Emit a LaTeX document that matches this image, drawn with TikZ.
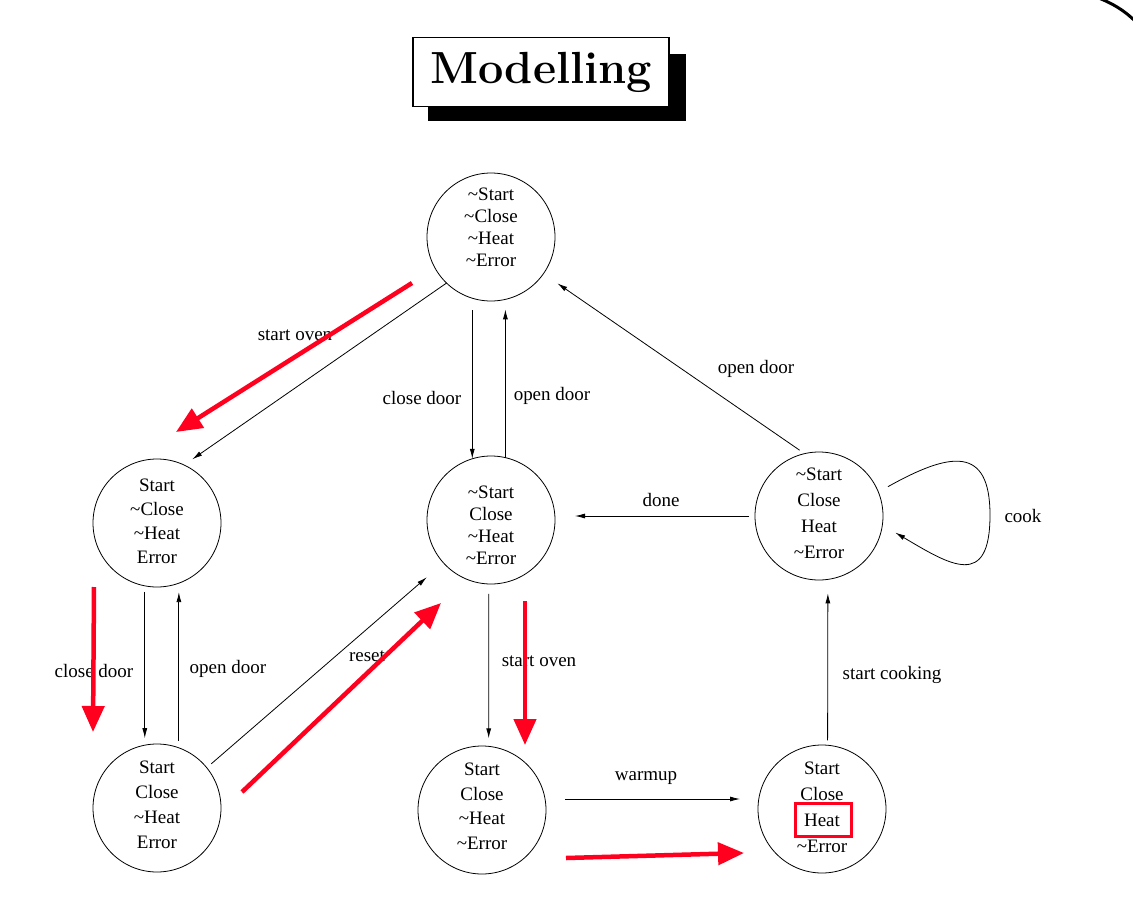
\documentclass[tikz,border=0pt]{standalone}
\usepackage{fontspec}
\newfontfamily\statefont{Liberation Serif}
\usetikzlibrary{arrows.meta}
\definecolor{markred}{RGB}{255,0,30}
\tikzset{
  state/.style={circle, draw, line width=0.8pt, minimum size=128pt, inner sep=0pt, outer sep=0pt,
    align=center, font=\statefont\fontsize{19}{#1}\selectfont},
  state/.default=23.5,
  lbl/.style={font=\statefont\fontsize{19}{23}\selectfont},
  edge/.style={-{Latex[length=10pt,width=5pt]}, line width=0.8pt},
  redarrow/.style={-{Triangle[length=26pt,width=22pt]}, draw=markred, fill=markred, line width=4.5pt}
}
\begin{document}
\begin{tikzpicture}[x=1pt, y=-1pt]
        \useasboundingbox (0,0) rectangle (1133,910);

        % title with its shadow
        \fill (428,54) rectangle (686,121);
        \node[draw, line width=1.5pt, fill=white, minimum width=256pt, minimum height=69pt, inner sep=0pt] (title) at (541,72)
            {\bfseries\fontsize{45}{50}\selectfont Modelling};
        \draw [line width=3pt] (1096,-3) .. controls (1112,3) and (1124,10) .. (1136,22);

        % states
        \node[state=22] (s0) at (491,237) {\textasciitilde Start\\\textasciitilde Close\\\textasciitilde Heat\\\textasciitilde Error\rule[-19pt]{0pt}{0pt}};
        \node[state=24] (s1) at (157,523) {Start\\\textasciitilde Close\\\textasciitilde Heat\\Error\rule[-3pt]{0pt}{0pt}};
        \node[state=22] (s2) at (491,520) {\rule{0pt}{23pt}\textasciitilde Start\\Close\\\textasciitilde Heat\\\textasciitilde Error};
        \node[state=26] (s3) at (819,516) {\textasciitilde Start\\Close\\Heat\\\textasciitilde Error\rule[-6pt]{0pt}{0pt}};
        \node[state=25] (s4) at (157,808) {Start\\Close\\\textasciitilde Heat\\Error\rule[-6pt]{0pt}{0pt}};
        \node[state=24.5] (s5) at (482,810) {Start\\Close\\\textasciitilde Heat\\\textasciitilde Error\rule[-8pt]{0pt}{0pt}};
        \node[state=26] (s6) at (822,809) {Start\\Close\\Heat\\\textasciitilde Error\rule[-4pt]{0pt}{0pt}};

        % transitions
        \draw [edge, shorten >=10pt] (s0.-134) -- (s1.65);
        \draw [edge, shorten <=12pt] (s0.-107) -- (s2.107);
        \draw [edge, shorten >=10pt] (s2.77) -- (s0.-77);
        \draw [edge, shorten <=6pt, shorten >=17pt] (s3.103) -- (s0.-35);
        \draw [edge, shorten <=6pt, shorten >=20pt] (s3.west) -- (s2.east |- s3.west);
        \draw [edge, shorten <=11pt, shorten >=15pt] (s3.22) .. controls (950,452) and (990,445) .. (990,515)
            .. controls (990,590) and (950,565) .. (s3.-8);
        \draw [edge, shorten <=6pt, shorten >=7pt] (s1.-101) -- (s4.101);
        \draw [edge, shorten <=7pt, shorten >=9pt] (s4.70) -- (s1.-70);
        \draw [edge, shorten <=6pt, shorten >=22pt] (s4.39) -- (s2.-138);
        \draw [edge, shorten <=10pt, shorten >=8pt] (s2.-92) -- (s5.84);
        \draw [edge, shorten <=19pt, shorten >=18pt] ([yshift=11pt]s5.east) -- ([yshift=10pt]s6.west);
        \draw [edge, shorten <=5pt, shorten >=14pt] (s6.85) -- (s3.-82);

        % transition labels
        \node[lbl] (l01) at (295,335) {start oven};
        \node[lbl] (l02) at (422,398) {close door};
        \node[lbl] (l20) at (552,396) {open door};
        \node[lbl] (l30) at (756,369) {open door};
        \node[lbl] (l32) at (661,500) {done};
        \node[lbl] (l33) at (1023,516) {cook};
        \node[lbl] (l14) at (94,671) {close door};
        \node[lbl] (l41) at (228,669) {open door};
        \node[lbl] (l42) at (367,656) {reset};
        \node[lbl] (l25) at (539,661) {start oven};
        \node[lbl] (l56) at (646,778) {warmup};
        \node[lbl] (l63) at (892,675) {start cooking};

        % red path
        \draw [redarrow] (412,283) -- (176,432);
        \draw [redarrow] (94,587) -- (93,732);
        \draw [redarrow] (242,792) -- (441,603);
        \draw [redarrow] (525,601) -- (525,745);
        \draw [redarrow] (566,858) -- (744,853);
        \draw [markred, line width=3pt] (795,803) rectangle (851,836);
    \end{tikzpicture}
\end{document}
